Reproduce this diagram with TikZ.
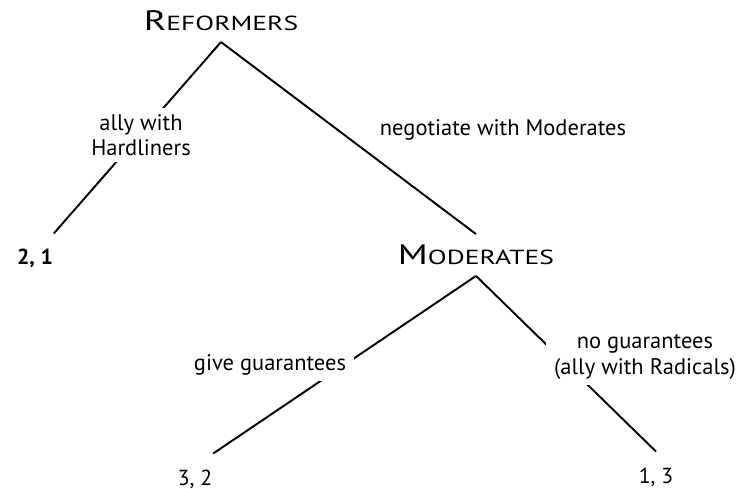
\documentclass[tikz,border=0pt]{standalone}
\usepackage{fontspec}
\setmainfont{PT Sans}
\newfontfamily\namefont[FakeStretch=1.35]{PT Sans}
\usepackage{tikz}
\usetikzlibrary{positioning}

\newcommand{\scname}[2]{{\namefont\fontsize{16}{18}\selectfont #1}{\namefont\fontsize{11.6}{13}\selectfont #2}}

\begin{document}
\begin{tikzpicture}[x=0.02cm, y=-0.02cm, line width=1.1pt,
  player/.style = {inner xsep=0pt, inner ysep=0.2cm},
  payoff/.style = {anchor=base, inner xsep=0pt, inner ysep=0.3cm, font=\fontsize{12.4}{14}\selectfont},
  move/.style = {fill=white, align=center, inner xsep=0.16cm, inner ysep=0.12cm, font=\fontsize{12.8}{14.5}\selectfont}]

\useasboundingbox (0,0) rectangle (740,489);

\node[player] (reformers) at (221,21) {\scname{R}{EFORMERS}};
\node[player] (moderates) at (476,255) {\scname{M}{ODERATES}};

\node[payoff] (hardliners) at (35,265) {\bfseries 2, 1};
\node[payoff] (guarantees) at (195,485) {3, 2};
\node[payoff] (radicals) at (656,483) {1, 3};

\draw (reformers.south) -- (hardliners.north east);
\draw (reformers.south) -- (moderates.north);
\draw (moderates.south) -- (guarantees.north east);
\draw (moderates.south) -- (radicals.north);

\node[move] (allyHard) at (141,135) {ally with\\Hardliners};
\node[move, fill=none] (negotiate) at (503,130) {negotiate with Moderates};
\node[move] (give) at (270,365) {give guarantees};
\node[move] (noGive) at (645,357) {no guarantees\\(ally with Radicals)};
\end{tikzpicture}
\end{document}
